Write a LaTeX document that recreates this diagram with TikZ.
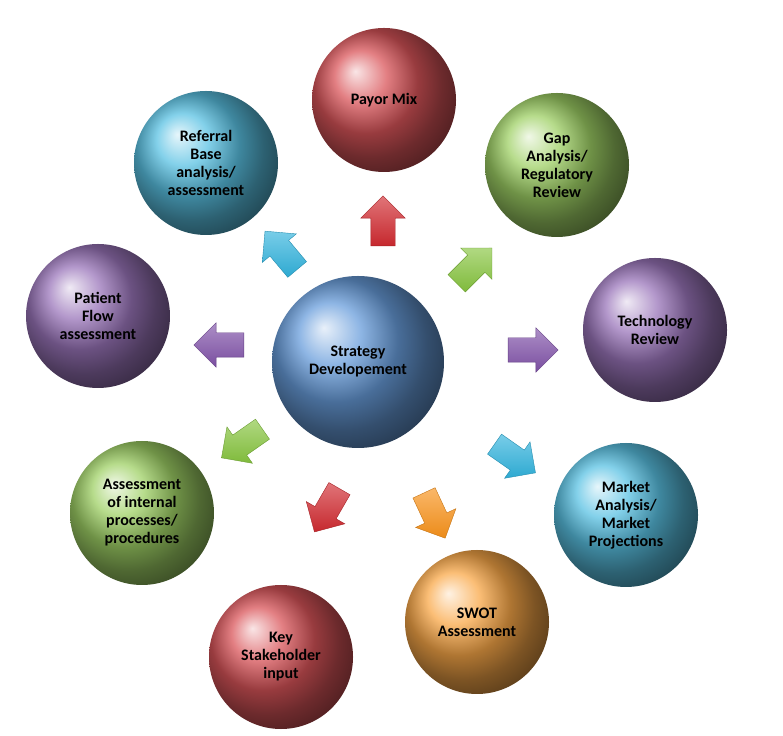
\documentclass[tikz,border=0pt]{standalone}
\usepackage{fontspec}
\setmainfont{Carlito}
\usetikzlibrary{shapes.arrows}
\definecolor{cred}{HTML}{D02A30}
\definecolor{cgreen}{HTML}{86C43E}
\definecolor{cpurple}{HTML}{8052A8}
\definecolor{ccyan}{HTML}{30B2DC}
\definecolor{corange}{HTML}{F8921A}
\definecolor{cblue}{HTML}{4284D2}
\tikzset{
  ball/.style={circle, minimum size=144pt, inner sep=0pt, shading=ball, ball color=#1!80!white,
    font=\bfseries\fontsize{16}{18}\selectfont, align=center, text=black},
  pointer/.style={single arrow, shading=axis, left color=#1!65!white, right color=#1!95!black,
    shading angle=0, draw=#1!80!black, minimum height=50pt, minimum width=0pt,
    single arrow head extend=10pt, inner sep=0pt,
    text width=1pt, text height=24pt, text depth=0pt}
}
\begin{document}
\begin{tikzpicture}[x=1pt,y=1pt]
    \useasboundingbox[fill=white] (0,0) rectangle (783,735);

    \node[ball=cblue, minimum size=172pt] (strategy) at (358,373) {Strategy\\Developement};

    \node[ball=cred] (payor) at (384,635) {Payor Mix};
    \node[ball=cgreen] (gap) at (557,570) {Gap\\Analysis/\\Regulatory\\Review};
    \node[ball=cpurple] (tech) at (655,405) {Technology\\Review};
    \node[ball=ccyan] (market) at (626,220) {Market\\Analysis/\\Market\\Projections};
    \node[ball=corange] (swot) at (477,113) {SWOT\\Assessment};
    \node[ball=cred] (key) at (281,78) {Key\\Stakeholder\\input};
    \node[ball=cgreen] (internal) at (142,222) {Assessment\\of internal\\processes/\\procedures};
    \node[ball=cpurple] (patient) at (98,419) {Patient\\Flow\\assessment};
    \node[ball=ccyan] (referral) at (206,572) {Referral\\Base\\analysis/\\assessment};

    % arrows pointing outward
    \node[pointer=cred, rotate=90] (a-payor) at (383,508) {};
    \node[pointer=cgreen, rotate=45] (a-gap) at (470,465) {};
    \node[pointer=cpurple, rotate=0] (a-tech) at (527,385) {};
    \node[pointer=ccyan, rotate=-35] (a-market) at (510,280) {};
    \node[pointer=corange, rotate=-65] (a-swot) at (432,225) {};
    \node[pointer=cred, rotate=-120] (a-key) at (330,230) {};
    \node[pointer=cgreen, rotate=-145] (a-internal) at (247,295) {};
    \node[pointer=cpurple, rotate=180] (a-patient) at (225,390) {};
    \node[pointer=ccyan, rotate=130] (a-referral) at (285,480) {};

\end{tikzpicture}
\end{document}
